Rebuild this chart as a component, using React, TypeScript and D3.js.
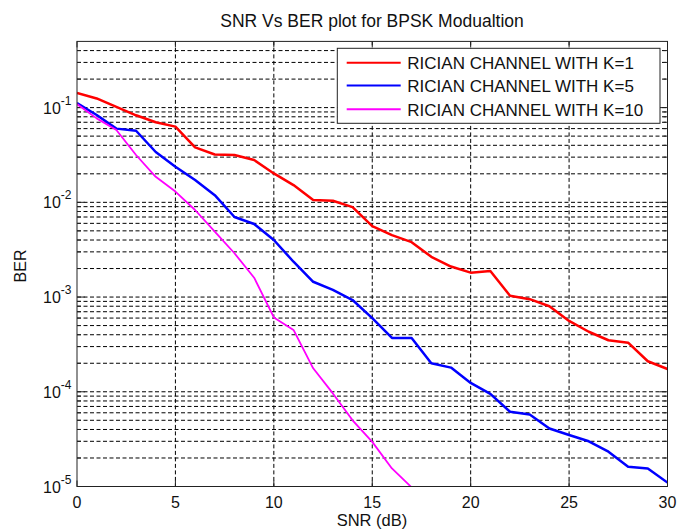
import { useEffect, useRef } from 'react'
import * as d3 from 'd3'

const SNR = d3.range(0, 31)
const K1 = [0.143, 0.125, 0.102, 0.083, 0.07, 0.063, 0.038, 0.032, 0.0316, 0.028, 0.0202, 0.0152, 0.0106, 0.0104, 0.0089, 0.0056, 0.0045, 0.0038, 0.00266, 0.0021, 0.00181, 0.00188, 0.00103, 0.00095, 0.0008, 0.00056, 0.00043, 0.00035, 0.00033, 0.00021, 0.000174]
const K5 = [0.112, 0.0835, 0.06, 0.057, 0.034, 0.0238, 0.0172, 0.0119, 0.007, 0.0059, 0.004, 0.00236, 0.00145, 0.00119, 0.00093, 0.0006, 0.00037, 0.00037, 0.0002, 0.00018, 0.000124, 0.000095, 0.0000616, 0.0000576, 0.000041, 0.000035, 0.00003, 0.0000233, 0.0000162, 0.0000155, 0.000011]
const K10 = [0.109, 0.077, 0.058, 0.0316, 0.0186, 0.013, 0.0083, 0.0049, 0.0029, 0.0016, 0.00061, 0.00045, 0.000177, 0.0000961, 0.00005, 0.0000296, 0.0000155, 0.0000098]
const SERIES = [
  { name: 'RICIAN CHANNEL WITH K=1', values: K1, color: '#ff0000', width: 2.5 },
  { name: 'RICIAN CHANNEL WITH K=5', values: K5, color: '#0000ff', width: 2.5 },
  { name: 'RICIAN CHANNEL WITH K=10', values: K10, color: '#ff00ff', width: 1.8 },
]
const X_TICKS = [0, 5, 10, 15, 20, 25, 30]
const Y_MAJOR = [-5, -4, -3, -2, -1]

export default function App() {
  const ref = useRef<SVGSVGElement>(null)
  useEffect(() => {
    if (!ref.current) return
    const W = 677, H = 531
    const L = 77, R = 667.5, T = 41.4, B = 486.5
    const font = 'Liberation Sans, Arial, sans-serif'
    const svg = d3.select(ref.current)
    svg.selectAll('*').remove()
    svg.attr('width', W).attr('height', H)
    svg.append('rect').attr('width', W).attr('height', H).attr('fill', '#fff')

    const x = d3.scaleLinear().domain([0, 30]).range([L, R])
    const y = d3.scaleLog().domain([1e-5, 0.5]).range([B, T])

    // grid
    const minor: number[] = []
    for (let d = -5; d <= -1; d++) for (let k = 1; k <= 9; k++) {
      const v = k * Math.pow(10, d)
      if (v < 0.5) minor.push(v)
    }
    const g = svg.append('g')
    g.selectAll('line.h').data(minor.filter(v => v > 1e-5)).join('line')
      .attr('x1', L).attr('x2', R).attr('y1', d => y(d)).attr('y2', d => y(d))
      .attr('stroke', '#000').attr('stroke-width', 1).attr('stroke-dasharray', '4,2.5')
    g.selectAll('line.v').data(X_TICKS.slice(1, -1)).join('line')
      .attr('y1', T).attr('y2', B).attr('x1', d => x(d)).attr('x2', d => x(d))
      .attr('stroke', '#000').attr('stroke-width', 1).attr('stroke-dasharray', '4,2.5')

    // ticks
    const tk = svg.append('g').attr('stroke', '#222').attr('stroke-width', 1)
    X_TICKS.forEach(t => {
      tk.append('line').attr('x1', x(t)).attr('x2', x(t)).attr('y1', B).attr('y2', B - 6)
      tk.append('line').attr('x1', x(t)).attr('x2', x(t)).attr('y1', T).attr('y2', T + 6)
    })
    minor.forEach(v => {
      const lg10 = Math.log10(v)
      const len = Math.abs(lg10 - Math.round(lg10)) < 1e-9 ? 8 : 4
      tk.append('line').attr('x1', L).attr('x2', L + len).attr('y1', y(v)).attr('y2', y(v))
      tk.append('line').attr('x1', R).attr('x2', R - len).attr('y1', y(v)).attr('y2', y(v))
    })

    // data lines
    const clip = svg.append('clipPath').attr('id', 'plotclip')
    clip.append('rect').attr('x', L).attr('y', T).attr('width', R - L).attr('height', B - T)
    const line = d3.line<number>().x((_, i) => x(SNR[i])).y(d => y(d))
    const lines = svg.append('g').attr('clip-path', 'url(#plotclip)')
    SERIES.forEach(s => {
      lines.append('path').attr('d', line(s.values)).attr('fill', 'none')
        .attr('stroke', s.color).attr('stroke-width', s.width).attr('stroke-linejoin', 'round')
    })

    // box
    svg.append('rect').attr('x', L).attr('y', T).attr('width', R - L).attr('height', B - T)
      .attr('fill', 'none').attr('stroke', '#222').attr('stroke-width', 1)

    // tick labels
    X_TICKS.forEach(t => {
      svg.append('text').attr('x', x(t)).attr('y', B + 21).attr('text-anchor', 'middle')
        .style('font-family', font).style('font-size', '16px').attr('fill', '#111').text(t)
    })
    Y_MAJOR.forEach(p => {
      const txt = svg.append('text').attr('x', 43).attr('y', y(Math.pow(10, p)) + 6)
        .style('font-family', font).style('font-size', '16px').attr('fill', '#111')
      txt.append('tspan').text('10')
      txt.append('tspan').attr('dy', -9).style('font-size', '12px').text(String(p))
    })

    // labels
    svg.append('text').attr('x', 372).attr('y', 27).attr('text-anchor', 'middle')
      .style('font-family', font).style('font-size', '17.5px').attr('fill', '#111')
      .text('SNR Vs BER plot for BPSK Modualtion')
    svg.append('text').attr('x', 372).attr('y', 526).attr('text-anchor', 'middle')
      .style('font-family', font).style('font-size', '16.5px').attr('fill', '#111').text('SNR (dB)')
    svg.append('text').attr('transform', 'translate(26,266) rotate(-90)').attr('text-anchor', 'middle')
      .style('font-family', font).style('font-size', '16px').attr('fill', '#111').text('BER')

    // legend
    const lg = svg.append('g')
    lg.append('rect').attr('x', 337.3).attr('y', 48.3).attr('width', 322.7).attr('height', 75)
      .attr('fill', '#fff').attr('stroke', '#222').attr('stroke-width', 1)
    const rows = [62.7, 85.5, 109.3]
    SERIES.forEach((s, i) => {
      lg.append('line').attr('x1', 346.7).attr('x2', 400.7).attr('y1', rows[i]).attr('y2', rows[i])
        .attr('stroke', s.color).attr('stroke-width', 2)
      lg.append('text').attr('x', 407.3).attr('y', rows[i] + 6.5)
        .style('font-family', font).style('font-size', '17px').attr('fill', '#111').text(s.name)
    })
  }, [])
  return <svg ref={ref} style={{ position: 'absolute', left: 0, top: 0 }} />
}
